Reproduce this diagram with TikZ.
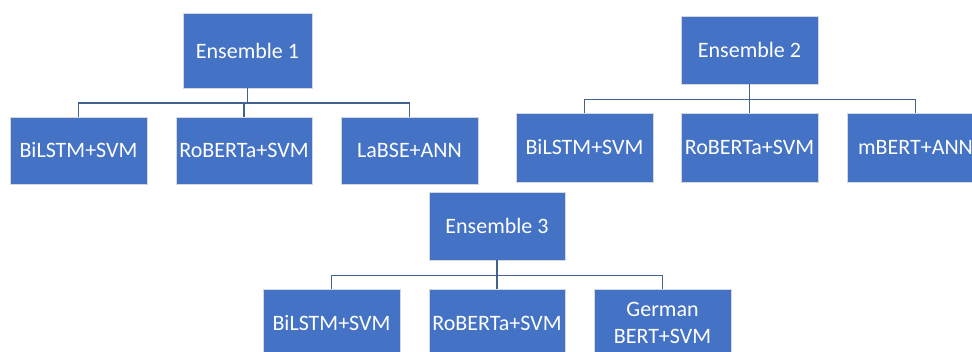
\documentclass[tikz,border=0pt]{standalone}
\usepackage{fontspec}
\setmainfont{Carlito}
\begin{document}
\begin{tikzpicture}[x=1pt,y=-1pt,
  blk/.style={rectangle, fill=boxblue, draw=boxedge, line width=0.9pt,
    text=white, align=center, inner sep=0pt,
    font=\fontsize{22}{27}\selectfont},
  conn/.style={draw=linkblue, line width=1.3pt}]
\definecolor{boxblue}{HTML}{4472C4}
\definecolor{boxedge}{HTML}{D4D8DE}
\definecolor{linkblue}{HTML}{42628F}
\useasboundingbox (0,0) rectangle (972,352);
\clip (0,0) rectangle (972,352);

% first ensemble
\node[blk, minimum width=129, minimum height=75] (e1) at (247.5,50.5) {Ensemble 1};
\node[blk, minimum width=137, minimum height=67] (a1) at (78.5,150.5) {BiLSTM+SVM};
\node[blk, minimum width=136, minimum height=67] (a2) at (244,150.5) {RoBERTa+SVM};
\node[blk, minimum width=137, minimum height=67] (a3) at (409.5,150.5) {LaBSE+ANN};
\foreach \c in {a1,a2,a3}
  \draw[conn] (e1.south) -- ++(0,14.5) -| (\c.north);

% second ensemble
\node[blk, minimum width=137, minimum height=68] (e2) at (749.5,50) {Ensemble 2};
\node[blk, minimum width=137, minimum height=69] (b1) at (584.5,147.5) {BiLSTM+SVM};
\node[blk, minimum width=137, minimum height=69] (b2) at (749.5,147.5) {RoBERTa+SVM};
\node[blk, minimum width=137, minimum height=69] (b3) at (915.5,147.5) {mBERT+ANN};
\foreach \c in {b1,b2,b3}
  \draw[conn] (e2.south) -- ++(0,15) -| (\c.north);

% third ensemble
\node[blk, minimum width=136, minimum height=68] (e3) at (497,226) {Ensemble 3};
\node[blk, minimum width=137, minimum height=68] (d1) at (331.5,323) {BiLSTM+SVM};
\node[blk, minimum width=136, minimum height=68] (d2) at (497,323) {RoBERTa+SVM};
\node[blk, minimum width=137, minimum height=68] (d3) at (662.5,323) {German\\BERT+SVM};
\foreach \c in {d1,d2,d3}
  \draw[conn] (e3.south) -- ++(0,15) -| (\c.north);
\end{tikzpicture}
\end{document}
